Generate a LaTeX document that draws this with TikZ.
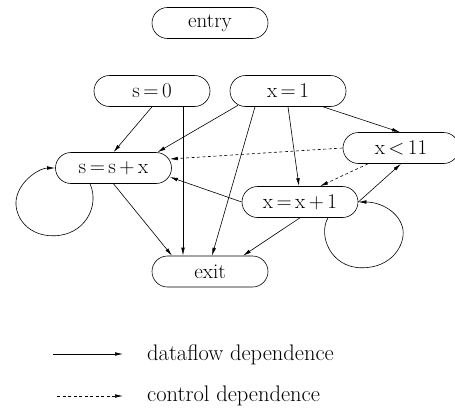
\documentclass[tikz,border=0pt]{standalone}
\usepackage{fontspec}
\usetikzlibrary{arrows.meta}
\begin{document}
\begin{tikzpicture}[x=1pt,y=-1pt,
  stmt/.style={draw, line width=0.6pt, rectangle, rounded corners=15.5pt,
    minimum width=116pt, minimum height=31pt, inner sep=0pt,
    font=\fontsize{21}{25}\selectfont},
  dep/.style={line width=0.6pt, -{Latex[length=8pt,width=3.6pt]}},
  ctl/.style={dep, dash pattern=on 3pt off 2.5pt},
  lab/.style={anchor=west, inner sep=0pt, font=\fontsize{22.5}{27}\selectfont}]
\clip (0,0) rectangle (455,407);
\useasboundingbox (0,0) rectangle (455,407);
% nodes
\node[stmt] (entry) at (210,23)    {entry};
\node[stmt] (s0)    at (152,91)    {s\,=\,0};
\node[stmt] (x1)    at (288,91)    {x\,=\,1};
\node[stmt] (ssx)   at (113.5,168) {s\,=\,s\,+\,x};
\node[stmt] (xlt)   at (401,148)   {x\,<\,11};
\node[stmt] (xx1)   at (300,202)   {x\,=\,x\,+\,1};
\node[stmt] (exit)  at (210,271.5) {exit};
% dataflow edges
\draw[dep] (s0.south) -- (ssx.north);
\draw[dep] ([xshift=31]s0.south) -- ([xshift=-27]exit.north);
\draw[dep] ([xshift=-50,yshift=1.5]x1.south) -- ([xshift=44]ssx.north);
\draw[dep] ([xshift=-33]x1.south) -- ([xshift=2]exit.north);
\draw[dep] (x1.south) -- ([xshift=-1]xx1.north);
\draw[dep] ([xshift=35]x1.south) -- ([xshift=-1]xlt.north);
\draw[dep] (xx1.east) -- (xlt.south);
\draw[dep] (xx1.west) -- ([xshift=-2,yshift=-9]ssx.east);
\draw[dep] (xx1.south) -- ([xshift=33]exit.north);
\draw[dep] (ssx.south) -- ([xshift=-38]exit.north);
% control edges
\draw[ctl] (xlt.west) -- ([xshift=-2,yshift=9]ssx.east);
\draw[ctl] ([xshift=-33]xlt.south) -- ([xshift=20]xx1.north);
% self loops
\draw[dep] ([xshift=-23.5]ssx.south) .. controls +(10,22) and +(32,0) .. ++(-37,52)
   .. controls +(-28,0) and +(-5,17) .. ++(-36,-40)
   .. controls +(5,-17) and +(-15,0) .. (ssx.west);
\draw[dep] ([xshift=28]xx1.south) .. controls +(-10,17) and +(-32,0) .. ++(34,50)
   .. controls +(30,0) and +(2,15) .. ++(41,-38)
   .. controls +(-3,-18) and +(22,0) .. (xx1.east);
% legend
\coordinate (l1a) at (53,354);
\coordinate (l1b) at (123,354);
\coordinate (l2a) at (57,396);
\coordinate (l2b) at (123,396);
\draw[dep] (l1a) -- (l1b);
\draw[ctl] (l2a) -- (l2b);
\node[lab] (t1) at (147,355) {dataflow dependence};
\node[lab] (t2) at (147,396) {control dependence};
\end{tikzpicture}
\end{document}
